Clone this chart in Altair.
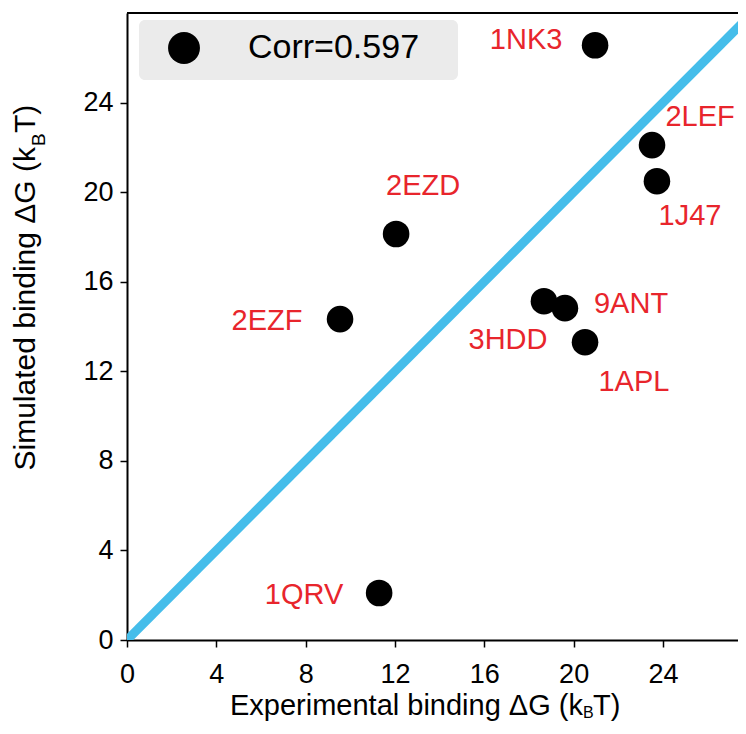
import altair as alt
import pandas as pd

# ---- data ----
names = ["1NK3", "2LEF", "1J47", "2EZD", "2EZF", "3HDD", "9ANT", "1APL", "1QRV"]
exp_dg = [20.96, 23.51, 23.73, 12.05, 9.54, 18.67, 19.61, 20.51, 11.29]
sim_dg = [26.56, 22.10, 20.49, 18.13, 14.33, 15.13, 14.82, 13.30, 2.10]
label_x = [17.87, 25.66, 25.21, 13.26, 6.27, 17.06, 22.57, 22.70, 7.93]
label_y = [26.79, 23.35, 18.93, 20.27, 14.24, 13.39, 15.00, 11.52, 2.01]
diag = [0, 28]
x_ticks = [0, 4, 8, 12, 16, 20, 24]
y_ticks = [0, 4, 8, 12, 16, 20, 24]
corr_label = "Corr=0.597"

FONT = "Liberation Sans"
W, H = 611, 627

df = pd.DataFrame({"name": names, "exp": exp_dg, "sim": sim_dg,
                   "lx": label_x, "ly": label_y})
diag_df = pd.DataFrame({"exp": diag, "sim": diag})
one = pd.DataFrame({"label": [corr_label]})

xscale = alt.Scale(domain=[0, 27.36], nice=False, zero=False)
yscale = alt.Scale(domain=[0, 28], nice=False, zero=False)

def ax(values, pad):
    return alt.Axis(values=values, title=None, grid=False, format="d",
                    domainColor="black", domainWidth=2, labelFlush=False,
                    tickColor="black", tickWidth=1.5, tickSize=7,
                    labelFontSize=27, labelFont=FONT, labelColor="black",
                    labelPadding=pad)

line = alt.Chart(diag_df).mark_line(color="#45bdea", strokeWidth=9, clip=True,
                                    strokeCap="butt").encode(
    x=alt.X("exp:Q", scale=xscale, axis=ax(x_ticks, 14)),
    y=alt.Y("sim:Q", scale=yscale, axis=ax(y_ticks, 7)),
)

points = alt.Chart(df).mark_circle(size=707, color="black", opacity=1).encode(
    x=alt.X("exp:Q", scale=xscale),
    y=alt.Y("sim:Q", scale=yscale),
)

labels = alt.Chart(df).mark_text(font=FONT, fontSize=29, color="#e8252c",
                                 align="center", baseline="middle").encode(
    x=alt.X("lx:Q", scale=xscale),
    y=alt.Y("ly:Q", scale=yscale),
    text="name:N",
)

top_border = alt.Chart(one).mark_rule(color="black", strokeWidth=2).encode(
    x=alt.value(0), x2=alt.value(W), y=alt.value(0))

leg_box = alt.Chart(one).mark_rect(color="#ebebeb", cornerRadius=6).encode(
    x=alt.value(12), x2=alt.value(331), y=alt.value(7), y2=alt.value(67))
leg_dot = alt.Chart(one).mark_circle(size=1018, color="black", opacity=1).encode(
    x=alt.value(57), y=alt.value(35))
leg_txt = alt.Chart(one).mark_text(font=FONT, fontSize=34, color="black",
                                   align="left", baseline="middle").encode(
    x=alt.value(121), y=alt.value(35), text="label:N")

def txt(s, x, y, size, align, angle=0):
    return alt.Chart(one).mark_text(text=s, font=FONT, fontSize=size, color="black",
                                    align=align, baseline="alphabetic",
                                    angle=angle).encode(x=alt.value(x), y=alt.value(y))

xt1 = txt("Experimental binding ΔG (k", 456, 702, 29, "right")
xt2 = txt("B", 456, 705, 16, "left")
xt3 = txt("T)", 466, 702, 29, "left")

yt1 = txt("Simulated binding ΔG (k", -92, 134, 30, "right", 270)
yt2 = txt("B", -82, 133, 19, "left", 270)
yt3 = txt("T)", -92, 120, 30, "left", 270)

chart = alt.layer(
    line, points, labels, top_border, leg_box, leg_dot, leg_txt,
    xt1, xt2, xt3, yt1, yt2, yt3,
).properties(
    width=W, height=H,
    autosize=alt.AutoSizeParams(type="none"),
    padding={"left": 119, "top": 5, "right": 0, "bottom": 81},
).configure_view(stroke=None)

chart.save("out.html", embed_options={"renderer": "svg", "actions": False})
